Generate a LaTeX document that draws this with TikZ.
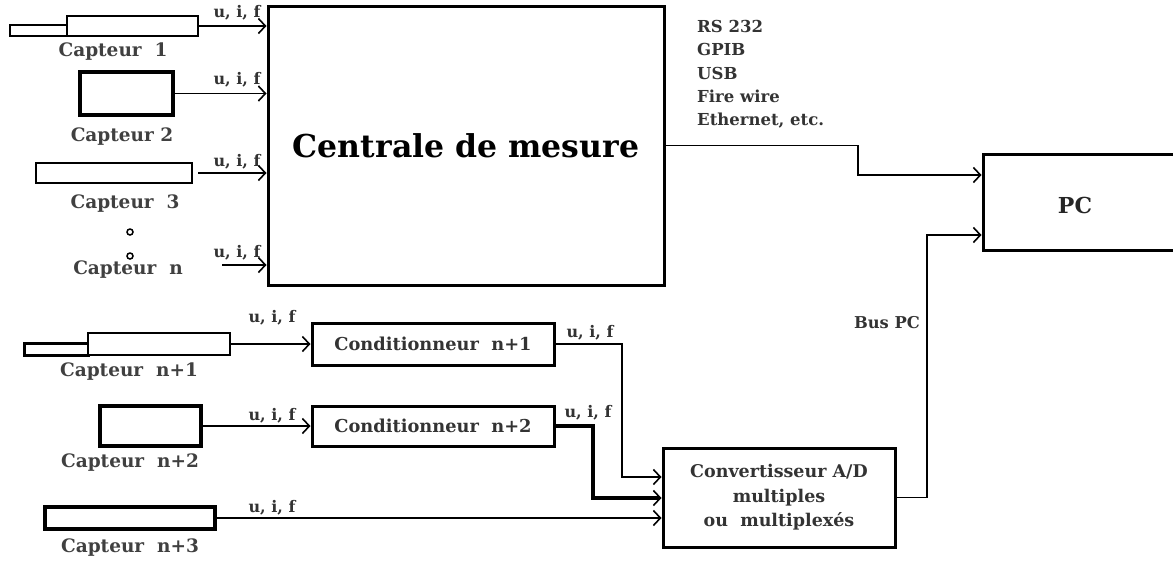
\documentclass[tikz,border=0pt]{standalone}
\usepackage{fontspec}
\setmainfont{DejaVu Serif}
\usetikzlibrary{arrows.meta}
\begin{document}
\begin{tikzpicture}[x=1pt,y=-1pt,
  sensor/.style={draw, line width=3pt, inner sep=0pt, fill=white},
  blockbox/.style={draw, line width=3pt, inner sep=0pt, text=black!80, align=center},
  wire/.style={line width=1.6pt},
  arr/.style={wire, -{Straight Barb[length=7pt,width=15pt,line width=1.6pt]}},
  uif/.style={font=\bfseries\fontsize{16}{18}\selectfont, text=black!80, inner sep=0pt},
  caplabel/.style={font=\bfseries\fontsize{18.5}{20}\selectfont, text=black!75, inner sep=0pt}
]
\useasboundingbox (0,0) rectangle (1173,562);
\clip (0,0) rectangle (1173,562);

% Centrale
\node[blockbox, minimum width=396pt, minimum height=279pt,
      font=\bfseries\fontsize{31.5}{34}\selectfont, text=black] (cm) at (466,145.5) {Centrale de mesure};

% Capteur 1
\node[sensor, line width=2.5pt, minimum width=57pt, minimum height=11pt] (c1a) at (38.5,30.5) {};
\node[sensor, line width=2.5pt, minimum width=131pt, minimum height=20pt] (c1b) at (132.5,26) {};
\node[caplabel] (l1) at (113,52) {Capteur\ \ 1};
% Capteur 2
\node[sensor, line width=3.5pt, minimum width=93pt, minimum height=43pt] (c2) at (126.5,93.5) {};
\node[caplabel] (l2) at (122,137) {Capteur 2};
% Capteur 3
\node[sensor, line width=2.5pt, minimum width=156pt, minimum height=20pt] (c3) at (114,173) {};
\node[caplabel] (l3) at (125,204) {Capteur\ \ 3};
% Capteur n
\node[draw, circle, line width=1.5pt, minimum size=6pt, inner sep=0pt] (d1) at (130,232) {};
\node[draw, circle, line width=1.5pt, minimum size=6pt, inner sep=0pt] (d2) at (130,256) {};
\node[caplabel] (ln) at (128,270) {Capteur\ \ n};
\coordinate (cn) at (222,265);

\draw[arr] (c1b.east) -- (cm.west |- c1b.east);
\draw[arr] (c2.east) -- (cm.west |- c2.east);
\draw[arr, shorten <=5pt] (c3.east) -- (cm.west |- c3.east);
\draw[arr] (cn) -- (cm.west |- cn);
\node[uif] (u1) at (237,13) {u, i, f};
\node[uif] (u2) at (237,80) {u, i, f};
\node[uif] (u3) at (237,162) {u, i, f};
\node[uif] (u4) at (237,253) {u, i, f};

% RS232 text
\node[anchor=north west, align=left, inner sep=0pt, text=black!80,
      font=\bfseries\fontsize{16.5}{23.3}\selectfont] (ifaces) at (697,20)
  {RS 232\\GPIB\\USB\\Fire wire\\Ethernet, etc.};

% PC
\node[draw, line width=3pt, minimum width=210pt, minimum height=96pt, inner sep=0pt] (pc) at (1088,202) {};
\node[font=\bfseries\fontsize{22}{24}\selectfont, text=black!85, inner sep=0pt] (pclbl) at (1075,205) {PC};

\draw[arr] (cm.east) -- (858,145.5) -- (858,175) -- (pc.west |- 0,175);

% lower chain
\node[sensor, line width=3pt, minimum width=64pt, minimum height=12pt] (c4a) at (56,349) {};
\node[sensor, line width=2.5pt, minimum width=142pt, minimum height=22pt] (c4b) at (159,344) {};
\node[caplabel] (l4) at (129,372) {Capteur\ \ n+1};
\node[sensor, line width=3.5pt, minimum width=101pt, minimum height=40pt] (c5) at (150.5,426) {};
\node[caplabel] (l5) at (130,463) {Capteur\ \ n+2};
\node[sensor, line width=3.5pt, minimum width=170pt, minimum height=22pt] (c6) at (130,518) {};
\node[caplabel] (l6) at (130,548) {Capteur\ \ n+3};

\node[blockbox, minimum width=242pt, minimum height=42pt,
      font=\bfseries\fontsize{17.8}{20}\selectfont] (k1) at (433,344) {Conditionneur\ \ n+1};
\node[blockbox, minimum width=242pt, minimum height=40pt,
      font=\bfseries\fontsize{17.8}{20}\selectfont] (k2) at (433,426) {Conditionneur\ \ n+2};
\node[blockbox, minimum width=232pt, minimum height=99pt,
      font=\bfseries\fontsize{17.5}{24.5}\selectfont] (conv) at (779,497.5)
  {Convertisseur A/D\\multiples\\ou\ \ multiplexés};

\draw[arr] (c4b.east) -- (k1.west);
\draw[arr] (c5.east) -- (k2.west);
\node[uif] (u5) at (272,318) {u, i, f};
\node[uif] (u6) at (272,416) {u, i, f};
\node[uif] (u7) at (272,508) {u, i, f};

\draw[arr] (k1.east) -- (622,344) -- (622,477) -- (conv.west |- 0,477);
\draw[arr, line width=3.5pt] (k2.east) -- (593,426) -- (593,498) -- (conv.west |- 0,498);
\draw[arr] (c6.east) -- (conv.west |- c6.east);
\node[uif] (u8) at (590,333) {u, i, f};
\node[uif] (u9) at (588,413) {u, i, f};

\draw[arr] (conv.east) -- (927,497.5) -- (927,235) -- (pc.west |- 0,235);
\node[uif, anchor=east, font=\bfseries\fontsize{16.3}{18}\selectfont] (bus) at (920,323) {Bus PC};
\end{tikzpicture}
\end{document}
